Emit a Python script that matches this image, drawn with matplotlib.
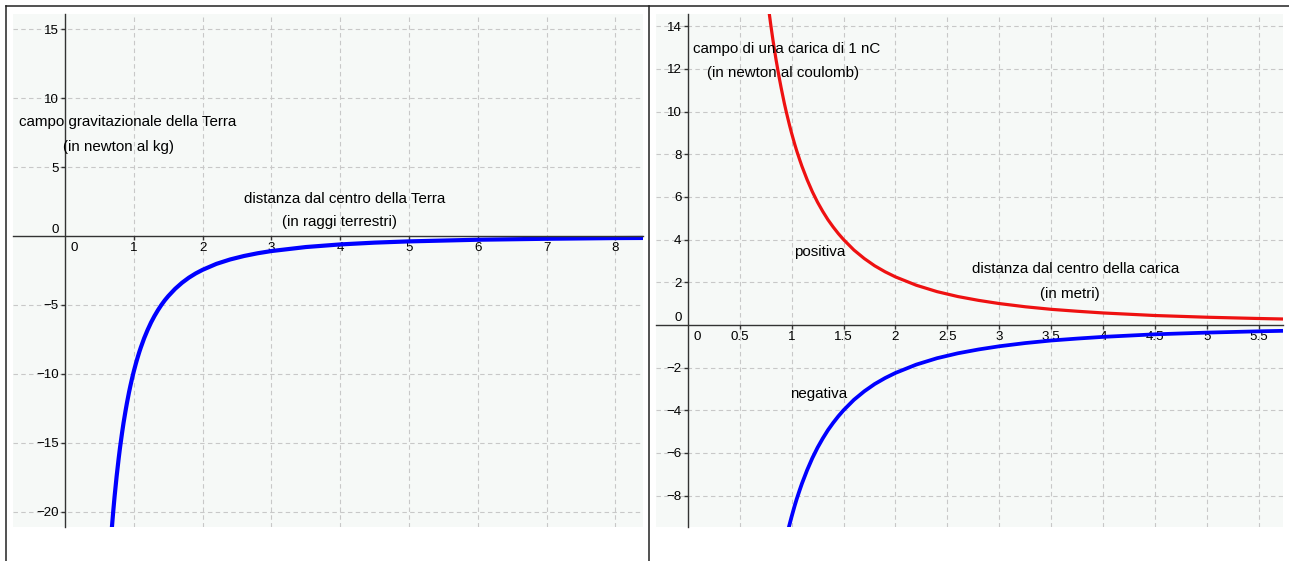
import matplotlib
matplotlib.use('Agg')
import matplotlib.pyplot as plt
from matplotlib.lines import Line2D
import matplotlib.transforms as mtransforms

plt.rcParams['font.family'] = ['Liberation Sans', 'DejaVu Sans']
plt.rcParams['axes.unicode_minus'] = True

W, H = 1289, 561

# ---------------- data ----------------
# Left: gravitational field of the Earth (N/kg) vs distance (Earth radii)
earth_dist = [0.68, 0.70, 0.72, 0.75, 0.78, 0.80, 0.83, 0.85, 0.88, 0.90, 0.93, 0.95,
              0.98, 1.00, 1.03, 1.05, 1.08, 1.10, 1.15, 1.20, 1.25, 1.30, 1.35, 1.40,
              1.45, 1.50, 1.60, 1.70, 1.80, 1.90, 2.00, 2.20, 2.40, 2.60, 2.80, 3.00,
              3.50, 4.00, 4.50, 5.00, 6.00, 7.00, 8.00, 8.50]
earth_field = [-21.19, -20.00, -18.90, -17.42, -16.11, -15.31, -14.23, -13.56, -12.66,
               -12.10, -11.33, -10.86, -10.20, -9.80, -9.24, -8.89, -8.40, -8.10, -7.41,
               -6.81, -6.27, -5.80, -5.38, -5.00, -4.66, -4.36, -3.83, -3.39, -3.02,
               -2.71, -2.45, -2.02, -1.70, -1.45, -1.25, -1.09, -0.80, -0.61, -0.48,
               -0.39, -0.27, -0.20, -0.15, -0.14]
earth_xticks = [1, 2, 3, 4, 5, 6, 7, 8]
earth_yticks = [-20, -15, -10, -5, 5, 10, 15]

# Right: field of a 1 nC charge (N/C) vs distance (m)
pos_dist = [0.78, 0.80, 0.82, 0.85, 0.88, 0.90, 0.93, 0.95, 0.98, 1.00, 1.03, 1.05,
            1.08, 1.10, 1.15, 1.20, 1.25, 1.30, 1.35, 1.40, 1.45, 1.50, 1.60, 1.70,
            1.80, 1.90, 2.00, 2.20, 2.40, 2.60, 2.80, 3.00, 3.25, 3.50, 3.75, 4.00,
            4.50, 5.00, 5.50, 5.80]
pos_field = [14.78, 14.05, 13.37, 12.44, 11.61, 11.10, 10.39, 9.96, 9.36, 8.99, 8.47,
             8.15, 7.71, 7.43, 6.80, 6.24, 5.75, 5.32, 4.93, 4.59, 4.28, 4.00, 3.51,
             3.11, 2.77, 2.49, 2.25, 1.86, 1.56, 1.33, 1.15, 1.00, 0.85, 0.73, 0.64,
             0.56, 0.44, 0.36, 0.30, 0.27]
neg_dist = [0.96, 0.98, 1.00, 1.03, 1.05, 1.08, 1.10, 1.15, 1.20, 1.25, 1.30, 1.35,
            1.40, 1.45, 1.50, 1.60, 1.70, 1.80, 1.90, 2.00, 2.20, 2.40, 2.60, 2.80,
            3.00, 3.25, 3.50, 3.75, 4.00, 4.50, 5.00, 5.50, 5.80]
neg_field = [-9.75, -9.36, -8.99, -8.47, -8.15, -7.71, -7.43, -6.80, -6.24, -5.75,
             -5.32, -4.93, -4.59, -4.28, -4.00, -3.51, -3.11, -2.77, -2.49, -2.25,
             -1.86, -1.56, -1.33, -1.15, -1.00, -0.85, -0.73, -0.64, -0.56, -0.44,
             -0.36, -0.30, -0.27]
charge_xticks = [0.5, 1, 1.5, 2, 2.5, 3, 3.5, 4, 4.5, 5, 5.5]
charge_yticks = [-8, -6, -4, -2, 2, 4, 6, 8, 10, 12, 14]

# ---------------- styling ----------------
BG = '#f6f9f7'
AXC = '#333333'
GRIDC = '#c8c8c8'
TICK_FS = 9.6
TEXT_FS = 10.9

fig = plt.figure(figsize=(W / 100, H / 100), dpi=100)
fig.patch.set_facecolor('white')


def px_axes(l, t, r, b):
    return fig.add_axes([l / W, 1 - b / H, (r - l) / W, (b - t) / H])


def fmt(v):
    s = '%g' % v
    return s.replace('-', '\u2212')


def setup(ax, xlim, ylim, xticks, yticks):
    ax.set_facecolor(BG)
    ax.set_xlim(*xlim)
    ax.set_ylim(*ylim)
    for s in ['top', 'right']:
        ax.spines[s].set_visible(False)
    ax.spines['left'].set_position(('data', 0))
    ax.spines['bottom'].set_position(('data', 0))
    for s in ['left', 'bottom']:
        ax.spines[s].set_color(AXC)
        ax.spines[s].set_linewidth(1.0)
    ax.set_xticks(xticks)
    ax.set_xticklabels([fmt(t) for t in xticks])
    ax.set_yticks(yticks)
    ax.set_yticklabels([fmt(t) for t in yticks])
    ax.tick_params(direction='out', length=3, width=1, color=AXC,
                   labelsize=TICK_FS, pad=1.5, labelcolor='black')
    ax.grid(True, color=GRIDC, linestyle=(0, (4, 3)), linewidth=0.8)
    ax.set_axisbelow(True)
    # zero labels
    tx = mtransforms.offset_copy(ax.transData, fig=fig, x=4, y=-4.5, units='points')
    ax.text(0, 0, '0', transform=tx, ha='left', va='top', fontsize=TICK_FS)
    ty = mtransforms.offset_copy(ax.transData, fig=fig, x=-4.5, y=2.5, units='points')
    ax.text(0, 0, '0', transform=ty, ha='right', va='baseline', fontsize=TICK_FS)


ax1 = px_axes(13, 14, 643, 527)
setup(ax1, (-0.756, 8.40), (-21.09, 16.09), earth_xticks, earth_yticks)
ax1.plot(earth_dist, earth_field, color='#0000ff', lw=3.0, solid_capstyle='butt',
         solid_joinstyle='round')

ax2 = px_axes(656, 14, 1283, 527)
setup(ax2, (-0.305, 5.73), (-9.47, 14.57), charge_xticks, charge_yticks)
ax2.plot(pos_dist, pos_field, color='#ee1111', lw=2.3, solid_capstyle='butt',
         solid_joinstyle='round')
ax2.plot(neg_dist, neg_field, color='#0000ff', lw=2.7, solid_capstyle='butt',
         solid_joinstyle='round')

# ---------------- texts ----------------
def ftext(x, y, s):
    fig.text(x / W, 1 - y / H, s, ha='left', va='center', fontsize=TEXT_FS)

ftext(19, 122, 'campo gravitazionale della Terra')
ftext(63, 147, '(in newton al kg)')
ftext(244, 199, 'distanza dal centro della Terra')
ftext(282, 222, '(in raggi terrestri)')

ftext(693, 49, 'campo di una carica di 1 nC')
ftext(707, 73, '(in newton al coulomb)')
ftext(794, 252, 'positiva')
ftext(972, 269, 'distanza dal centro della carica')
ftext(1040, 294, '(in metri)')
ftext(790, 394, 'negativa')

# ---------------- frame lines ----------------
fc = '#222222'
fig.add_artist(Line2D([6 / W, 1], [1 - 6 / H, 1 - 6 / H], transform=fig.transFigure, color=fc, lw=1.1))
fig.add_artist(Line2D([6 / W, 6 / W], [0, 1 - 6 / H], transform=fig.transFigure, color=fc, lw=1.1))
fig.add_artist(Line2D([648.5 / W, 648.5 / W], [0, 1 - 6 / H], transform=fig.transFigure, color=fc, lw=1.1))

fig.savefig('out.png', dpi=100)
